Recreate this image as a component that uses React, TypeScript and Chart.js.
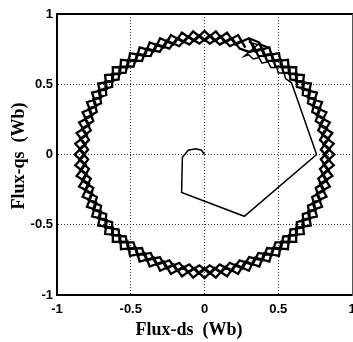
import React, { useEffect, useRef } from "react";
import { Chart, registerables } from "chart.js";
Chart.register(...registerables);

const tickValues = [-1, -0.5, 0, 0.5, 1];
const tickLabels = ["-1", "-0.5", "0", "0.5", "1"];
const xTitle = "Flux-ds  (Wb)";
const yTitle = "Flux-qs  (Wb)";

// start-up transient of the stator flux
const transientX = [0, -0.02, -0.06, -0.11, -0.15, -0.155, 0.27, 0.76, 0.59, 0.55, 0.54, 0.5, 0.49, 0.45, 0.43, 0.39, 0.37, 0.33, 0.3, 0.27, 0.37, 0.44, 0.3];
const transientY = [0, 0.03, 0.04, 0.03, -0.02, -0.27, -0.44, 0.0, 0.51, 0.54, 0.58, 0.58, 0.62, 0.62, 0.66, 0.65, 0.69, 0.68, 0.71, 0.7, 0.79, 0.76, 0.8];

// steady-state circular trajectory, turns 1-2
const turn12X = [
  0.277, 0.228, 0.141, 0.077, 0, -0.077, -0.141, -0.228, -0.277, -0.372, -0.405, -0.505, -0.521, -0.622, -0.62, -0.721, -0.701, -0.797, -0.761, -0.85, -0.798, -0.876, -0.81, -0.876, -0.798, -0.85, -0.761, -0.797, -0.701, -0.721, -0.62, -0.622, -0.521, -0.505, -0.405, -0.372, -0.277, -0.228, -0.141, -0.077, 0, 0.077, 0.141, 0.228, 0.277, 0.372, 0.405, 0.505, 0.521, 0.622, 0.62, 0.721, 0.701, 0.797, 0.761, 0.85, 0.798, 0.876, 0.81, 0.876, 0.798, 0.85, 0.761, 0.797, 0.701, 0.721, 0.62, 0.622, 0.521, 0.505, 0.405, 0.372,
  0.301, 0.21, 0.153, 0.07, 0, -0.07, -0.153, -0.21, -0.301, -0.343, -0.44, -0.465, -0.566, -0.573, -0.674, -0.663, -0.762, -0.734, -0.827, -0.782, -0.867, -0.807, -0.88, -0.807, -0.867, -0.782, -0.827, -0.734, -0.762, -0.663, -0.674, -0.573, -0.566, -0.465, -0.44, -0.343, -0.301, -0.21, -0.153, -0.07, 0, 0.07, 0.153, 0.21, 0.301, 0.343, 0.44, 0.465, 0.566, 0.573, 0.674, 0.663, 0.762, 0.734, 0.827, 0.782, 0.867, 0.807, 0.88, 0.807, 0.867, 0.782, 0.827, 0.734, 0.762, 0.663, 0.674, 0.573, 0.566, 0.465, 0.44, 0.343, 0.301
];
const turn12Y = [
  0.761, 0.85, 0.798, 0.876, 0.81, 0.876, 0.798, 0.85, 0.761, 0.797, 0.701, 0.721, 0.62, 0.622, 0.521, 0.505, 0.405, 0.372, 0.277, 0.228, 0.141, 0.077, 0, -0.077, -0.141, -0.228, -0.277, -0.372, -0.405, -0.505, -0.521, -0.622, -0.62, -0.721, -0.701, -0.797, -0.761, -0.85, -0.798, -0.876, -0.81, -0.876, -0.798, -0.85, -0.761, -0.797, -0.701, -0.721, -0.62, -0.622, -0.521, -0.505, -0.405, -0.372, -0.277, -0.228, -0.141, -0.077, 0, 0.077, 0.141, 0.228, 0.277, 0.372, 0.405, 0.505, 0.521, 0.622, 0.62, 0.721, 0.701, 0.797,
  0.827, 0.782, 0.867, 0.807, 0.88, 0.807, 0.867, 0.782, 0.827, 0.734, 0.762, 0.663, 0.674, 0.573, 0.566, 0.465, 0.44, 0.343, 0.301, 0.21, 0.153, 0.07, 0, -0.07, -0.153, -0.21, -0.301, -0.343, -0.44, -0.465, -0.566, -0.573, -0.674, -0.663, -0.762, -0.734, -0.827, -0.782, -0.867, -0.807, -0.88, -0.807, -0.867, -0.782, -0.827, -0.734, -0.762, -0.663, -0.674, -0.573, -0.566, -0.465, -0.44, -0.343, -0.301, -0.21, -0.153, -0.07, 0, 0.07, 0.153, 0.21, 0.301, 0.343, 0.44, 0.465, 0.566, 0.573, 0.674, 0.663, 0.762, 0.734, 0.827
];

// turns 3-4
const turn34X = [
  0.256, 0.171, 0.111, 0.035,
  -0.037, -0.103, -0.184, -0.238, -0.326, -0.365, -0.456, -0.481, -0.575, -0.582, -0.674, -0.666, -0.754, -0.73, -0.811, -0.771, -0.842, -0.789,
  -0.849, -0.783, -0.83, -0.754, -0.785, -0.701, -0.717, -0.626, -0.626, -0.534, -0.518, -0.424, -0.393, -0.303, -0.256, -0.171, -0.111, -0.035,
  0.037, 0.103, 0.184, 0.238, 0.326, 0.365, 0.456, 0.481, 0.575, 0.582, 0.674, 0.666, 0.754, 0.73, 0.811, 0.771, 0.842, 0.789,
  0.849, 0.783, 0.83, 0.754, 0.785, 0.701, 0.717, 0.626, 0.626, 0.534, 0.518, 0.424, 0.393, 0.303,
  0.238, 0.184, 0.103, 0.037,
  -0.035, -0.111, -0.171, -0.256, -0.303, -0.393, -0.424, -0.518, -0.534, -0.626, -0.626, -0.717, -0.701, -0.785, -0.754, -0.83, -0.783, -0.849,
  -0.789, -0.842, -0.771, -0.811, -0.73, -0.754, -0.666, -0.674, -0.582, -0.575, -0.481, -0.456, -0.365, -0.326, -0.238, -0.184, -0.103, -0.037,
  0.035, 0.111, 0.171, 0.256, 0.303, 0.393, 0.424, 0.518, 0.534, 0.626, 0.626, 0.717, 0.701, 0.785, 0.754, 0.83, 0.783, 0.849,
  0.789, 0.842, 0.771, 0.811, 0.73, 0.754, 0.666, 0.674, 0.582, 0.575, 0.481, 0.456, 0.365, 0.326
];
const turn34Y = [
  0.811, 0.771, 0.842, 0.789,
  0.849, 0.783, 0.83, 0.754, 0.785, 0.701, 0.717, 0.626, 0.626, 0.534, 0.518, 0.424, 0.393, 0.303, 0.256, 0.171, 0.111, 0.035,
  -0.037, -0.103, -0.184, -0.238, -0.326, -0.365, -0.456, -0.481, -0.575, -0.582, -0.674, -0.666, -0.754, -0.73, -0.811, -0.771, -0.842, -0.789,
  -0.849, -0.783, -0.83, -0.754, -0.785, -0.701, -0.717, -0.626, -0.626, -0.534, -0.518, -0.424, -0.393, -0.303, -0.256, -0.171, -0.111, -0.035,
  0.037, 0.103, 0.184, 0.238, 0.326, 0.365, 0.456, 0.481, 0.575, 0.582, 0.674, 0.666, 0.754, 0.73,
  0.754, 0.83, 0.783, 0.849,
  0.789, 0.842, 0.771, 0.811, 0.73, 0.754, 0.666, 0.674, 0.582, 0.575, 0.481, 0.456, 0.365, 0.326, 0.238, 0.184, 0.103, 0.037,
  -0.035, -0.111, -0.171, -0.256, -0.303, -0.393, -0.424, -0.518, -0.534, -0.626, -0.626, -0.717, -0.701, -0.785, -0.754, -0.83, -0.783, -0.849,
  -0.789, -0.842, -0.771, -0.811, -0.73, -0.754, -0.666, -0.674, -0.582, -0.575, -0.481, -0.456, -0.365, -0.326, -0.238, -0.184, -0.103, -0.037,
  0.035, 0.111, 0.171, 0.256, 0.303, 0.393, 0.424, 0.518, 0.534, 0.626, 0.626, 0.717, 0.701, 0.785
];

const toPoints = (xs: number[], ys: number[]) => xs.map((x, i) => ({ x, y: ys[i] }));

const tickFont = { family: "Arial, 'Liberation Sans', sans-serif", size: 13, weight: "bold" as const };

const titlePlugin = {
  id: "axisTitles",
  afterDraw(chart: any) {
    const ctx = chart.ctx;
    ctx.save();
    ctx.fillStyle = "#000";
    ctx.font = "bold 18px 'Times New Roman', 'Liberation Serif', serif";
    ctx.textAlign = "center";
    ctx.textBaseline = "middle";
    ctx.fillText(xTitle, 189, 330);
    ctx.translate(19, 156);
    ctx.rotate(-Math.PI / 2);
    ctx.fillText(yTitle, 0, 0);
    ctx.restore();
  },
};

const lineSet = (xs: number[], ys: number[], w: number) => ({
  data: toPoints(xs, ys),
  showLine: true,
  borderColor: "#000",
  borderWidth: w,
  pointRadius: 0,
  tension: 0,
});

export default function App() {
  const ref = useRef<HTMLCanvasElement | null>(null);
  useEffect(() => {
    if (!ref.current) return;
    const setTicks = (scale: any) => {
      scale.ticks = tickValues.map((v) => ({ value: v }));
    };
    const chart = new Chart(ref.current, {
      type: "scatter",
      data: {
        datasets: [
          lineSet(transientX, transientY, 1.5),
          lineSet(turn12X, turn12Y, 2.3),
          lineSet(turn34X, turn34Y, 2.3),
        ],
      },
      options: {
        responsive: false,
        animation: false,
        layout: { padding: { top: 14, right: 1, left: 0, bottom: 0 } },
        plugins: { legend: { display: false }, tooltip: { enabled: false } },
        scales: {
          x: {
            type: "linear",
            position: "bottom",
            min: -1,
            max: 1,
            afterBuildTicks: setTicks,
            afterFit: (s: any) => { s.height = 47; s.paddingLeft = 0; s.paddingRight = 0; },
            grid: { color: "#333", lineWidth: 1, drawTicks: false },
            border: { display: true, color: "#000", width: 2, dash: [1, 2] },
            ticks: {
              color: "#000",
              font: tickFont,
              padding: 7,
              autoSkip: false,
              maxRotation: 0,
              callback: (_v: any, i: number) => tickLabels[i],
            },
          },
          y: {
            type: "linear",
            position: "left",
            min: -1,
            max: 1,
            afterBuildTicks: setTicks,
            afterFit: (s: any) => { s.width = 57; s.paddingTop = 0; s.paddingBottom = 0; },
            grid: { color: "#333", lineWidth: 1, drawTicks: false },
            border: { display: true, color: "#000", width: 2, dash: [1, 2] },
            ticks: {
              color: "#000",
              font: tickFont,
              padding: 4,
              autoSkip: false,
              callback: (_v: any, i: number) => tickLabels[i],
            },
          },
          xTop: {
            type: "linear",
            position: "top",
            min: -1,
            max: 1,
            afterFit: (s: any) => { s.height = 0; s.paddingLeft = 0; s.paddingRight = 0; },
            grid: { display: false, drawTicks: false },
            border: { display: true, color: "#000", width: 2 },
            ticks: { display: false },
          },
          yRight: {
            type: "linear",
            position: "right",
            min: -1,
            max: 1,
            afterFit: (s: any) => { s.width = 0; s.paddingTop = 0; s.paddingBottom = 0; },
            grid: { display: false, drawTicks: false },
            border: { display: true, color: "#555", width: 1 },
            ticks: { display: false },
          },
        },
      },
      plugins: [titlePlugin],
    });
    return () => chart.destroy();
  }, []);
  return (
    <div style={{ position: "fixed", left: 0, top: 0, width: 353, height: 342, background: "#fff" }}>
      <canvas ref={ref} width={353} height={342} style={{ display: "block" }} />
    </div>
  );
}
